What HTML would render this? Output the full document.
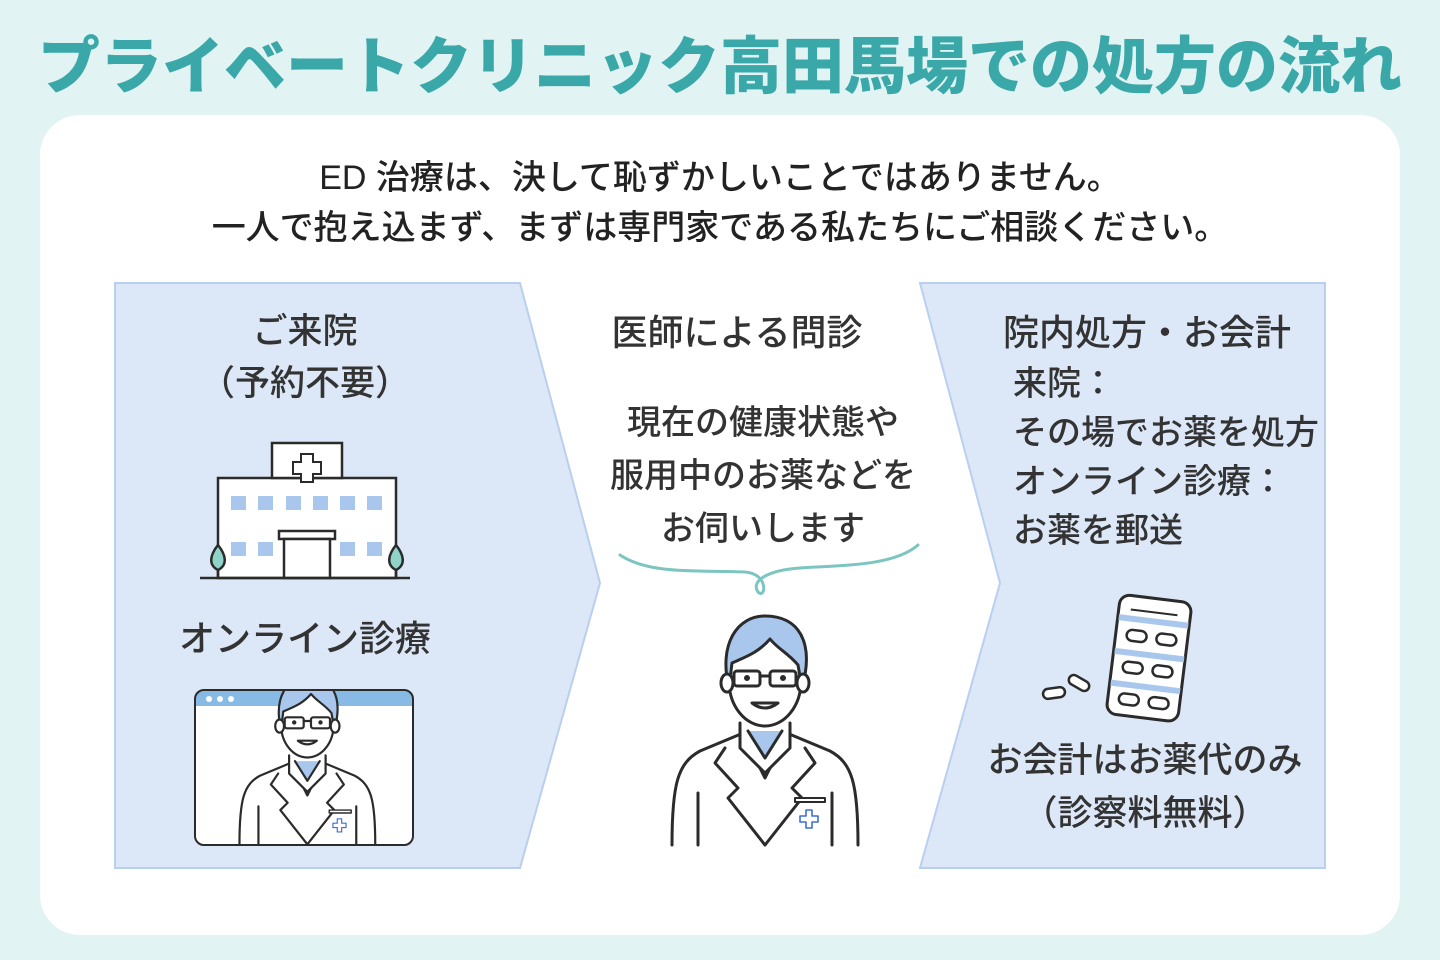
<!DOCTYPE html>
<html><head><meta charset="utf-8">
<style>
body{margin:0;width:1440px;height:960px;background:#e2f3f3;position:relative;overflow:hidden;font-family:"Liberation Sans","Noto Sans CJK JP",sans-serif;color:#333}
.t{position:absolute;white-space:nowrap;font-weight:500}
</style></head><body>
<div class="t" style="left:0;width:1440px;top:16px;text-align:center;font-size:62px;font-weight:900;color:#3aa8a8">プライベートクリニック高田馬場での処方の流れ</div>
<div style="position:absolute;left:40px;top:115px;width:1360px;height:820px;background:#fff;border-radius:40px"></div>
<div class="t" style="left:0;width:1440px;top:153px;text-align:center;font-size:34px;line-height:50px;color:#222">ED 治療は、決して恥ずかしいことではありません。<br>一人で抱え込まず、まずは専門家である私たちにご相談ください。</div>
<svg width="1440" height="960" style="position:absolute;left:0;top:0">
<defs>
<g id="doc" stroke="#2b2b2b" stroke-width="3" stroke-linejoin="round" stroke-linecap="round">
 <path d="M2 232 C2 170 8 150 30 138 L78 118 L112 118 L160 138 C182 150 188 170 188 232" fill="#fff"/>
 <path d="M70 115 L95 165 L120 115 Z" fill="#a9c7ec"/>
 <path d="M70 110 L70 135 L95 160 L120 135 L120 110" fill="#fff"/>
 <path d="M78 118 L95 145 L112 118" fill="#a9c7ec"/>
 <ellipse cx="95" cy="68" rx="36" ry="45" fill="#fff"/>
 <path d="M59 75 C48 30 68 3 95 3 C128 3 145 28 132 75 L128 52 C118 40 108 36 100 26 C88 40 75 44 62 50 Z" fill="#a9c7ec"/>
 <ellipse cx="57" cy="70" rx="6" ry="9" fill="#fff"/><ellipse cx="133" cy="70" rx="6" ry="9" fill="#fff"/>
 <rect x="64" y="58" width="26" height="15" rx="3" fill="none"/><rect x="100" y="58" width="26" height="15" rx="3" fill="none"/>
 <path d="M90 63 L100 63" fill="none"/>
 <circle cx="77" cy="65" r="1.5" fill="#2b2b2b"/><circle cx="113" cy="65" r="1.5" fill="#2b2b2b"/>
 <path d="M82 90 Q95 100 108 90 Z" fill="#fff"/>
 <path d="M55 135 L45 150 L68 175 L58 185 L95 232" fill="none"/>
 <path d="M135 135 L145 150 L122 175 L132 185 L95 232" fill="none"/>
 <path d="M28 180 L28 232 M162 180 L162 232" fill="none"/>
 <rect x="125" y="185" width="30" height="4" fill="#fff" stroke-width="2"/>
 <path d="M136 197 h6 v6 h6 v6 h-6 v6 h-6 v-6 h-6 v-6 h6z" fill="none" stroke="#3b6fd6" stroke-width="1.6"/>
</g>
<clipPath id="win"><rect x="195" y="690" width="218" height="155" rx="9"/></clipPath>
</defs>
<polygon points="115,283 520,283 600,583 520,868 115,868" fill="#dce7f7" stroke="#b9cff0" stroke-width="2"/>
<polygon points="920,283 1325,283 1325,868 920,868 1000,583" fill="#dce7f7" stroke="#b9cff0" stroke-width="2"/>
<g stroke="#2b2b2b" stroke-width="2.5" fill="#fff">
 <rect x="218" y="478" width="178" height="100"/>
 <rect x="272" y="443" width="70" height="35"/>
 <path d="M301 454h12v8h8v12h-8v8h-12v-8h-8v-12h8z" stroke-width="2"/>
 <rect x="279" y="531" width="56" height="8"/>
 <rect x="284" y="539" width="46" height="39"/>
 <path d="M200 578 L410 578"/>
</g>
<g fill="#a9c7ec">
 <rect x="231" y="496" width="15" height="14"/><rect x="258" y="496" width="15" height="14"/><rect x="286" y="496" width="15" height="14"/><rect x="313" y="496" width="15" height="14"/><rect x="340" y="496" width="15" height="14"/><rect x="367" y="496" width="15" height="14"/>
 <rect x="231" y="542" width="15" height="14"/><rect x="258" y="542" width="15" height="14"/><rect x="340" y="542" width="15" height="14"/><rect x="367" y="542" width="15" height="14"/>
</g>
<g stroke="#2b2b2b" stroke-width="2.5" fill="#8fd3c9">
 <path d="M218 545 C226 555 228 565 218 570 C208 565 210 555 218 545Z"/><path d="M218 570V578"/>
 <path d="M396 545 C404 555 406 565 396 570 C386 565 388 555 396 545Z"/><path d="M396 570V578"/>
</g>
<rect x="195" y="690" width="218" height="155" rx="9" fill="#fff"/>
<rect x="195" y="690" width="218" height="16" fill="#87bbe6" clip-path="url(#win)"/>
<circle cx="209" cy="699" r="3" fill="#fff"/><circle cx="220" cy="699" r="3" fill="#fff"/><circle cx="231" cy="699" r="3" fill="#fff"/>
<g clip-path="url(#win)"><use href="#doc" transform="translate(238,675) scale(0.73)"/></g>
<rect x="195" y="690" width="218" height="155" rx="9" fill="none" stroke="#2b2b2b" stroke-width="2"/>
<path d="M620 555 C650 575 700 570 745 572 C770 574 765 600 758 592 C750 580 770 570 800 568 C850 565 895 565 918 545" fill="none" stroke="#7cc5c0" stroke-width="3" stroke-linecap="round"/>
<use href="#doc" transform="translate(670,613)"/>
<g transform="rotate(7 1148 658)" stroke="#2b2b2b" stroke-width="3">
 <rect x="1113" y="598" width="72" height="120" rx="10" fill="#fff"/>
 <path d="M1125 612 H1172" stroke-width="2"/>
 <g fill="#a9c7ec" stroke="none"><rect x="1114" y="618" width="70" height="6"/><rect x="1114" y="652" width="70" height="6"/><rect x="1114" y="684" width="70" height="6"/></g>
 <g fill="none" stroke-width="2.5"><rect x="1124" y="632" width="20" height="11" rx="5.5"/><rect x="1154" y="632" width="20" height="11" rx="5.5"/><rect x="1124" y="664" width="20" height="11" rx="5.5"/><rect x="1154" y="664" width="20" height="11" rx="5.5"/><rect x="1124" y="696" width="20" height="11" rx="5.5"/><rect x="1154" y="696" width="20" height="11" rx="5.5"/></g>
</g>
<g stroke="#2b2b2b" stroke-width="2.5" fill="#fff">
 <rect x="1043" y="688" width="22" height="10" rx="5" transform="rotate(-8 1054 693)"/>
 <rect x="1068" y="678" width="22" height="10" rx="5" transform="rotate(30 1079 683)"/>
</g>
</svg>
<div class="t" style="left:105px;width:400px;top:306px;text-align:center;font-size:35px;line-height:52px">ご来院<br>（予約不要）</div>
<div class="t" style="left:105px;width:400px;top:610px;text-align:center;font-size:36px">オンライン診療</div>
<div class="t" style="left:537px;width:400px;top:304px;text-align:center;font-size:36px">医師による問診</div>
<div class="t" style="left:563px;width:400px;top:397px;text-align:center;font-size:34px;line-height:53px">現在の健康状態や<br>服用中のお薬などを<br>お伺いします</div>
<div class="t" style="left:1003px;top:304px;font-size:36px">院内処方・お会計</div>
<div class="t" style="left:1013px;top:360px;font-size:34px;line-height:49px">来院：<br>その場でお薬を処方<br>オンライン診療：<br>お薬を郵送</div>
<div class="t" style="left:945px;width:400px;top:734px;text-align:center;font-size:35px;line-height:53px">お会計はお薬代のみ<br>（診察料無料）</div>
</body></html>
